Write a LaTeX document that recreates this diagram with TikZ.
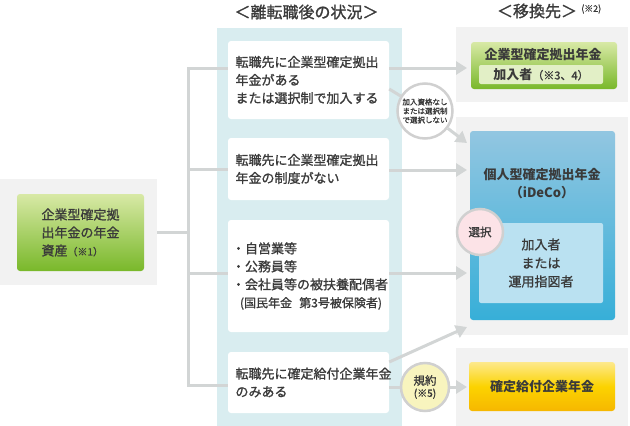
\documentclass[tikz,border=0pt]{standalone}
\usepackage{fontspec}
\setmainfont{Noto Sans CJK JP}[UprightFeatures={FakeBold=1.2}]
\usetikzlibrary{arrows.meta}
\definecolor{txt}{HTML}{3A3A3A}
\definecolor{lgray}{HTML}{F2F2F2}
\definecolor{lblue}{HTML}{D9EDF0}
\definecolor{linec}{HTML}{D2D5D5}
\definecolor{circb}{HTML}{D0D0D0}
\definecolor{gtop}{HTML}{D8E9A6}
\definecolor{gbot}{HTML}{79B82A}
\definecolor{ginner}{HTML}{E2EFC6}
\definecolor{btop}{HTML}{92C6E1}
\definecolor{bbot}{HTML}{37AFD8}
\definecolor{binner}{HTML}{BAE1F1}
\definecolor{ytop}{HTML}{FDE98C}
\definecolor{ymid}{HTML}{FCD300}
\definecolor{ybot}{HTML}{F6B700}
\definecolor{pinkc}{HTML}{FCE3E7}
\definecolor{yellc}{HTML}{F8F4BE}
\newcommand{\fsz}[2]{\fontsize{#1}{#2}\selectfont}
\begin{document}
\begin{tikzpicture}[x=1pt,y=-1pt,
  every node/.style={text=txt, inner sep=0pt},
  panel/.style={fill=lgray},
  wbox/.style={fill=white, rounded corners=3pt, minimum width=161pt, text width=146pt, align=left, font=\fsz{13}{18}},
  ln/.style={draw=linec, line width=3pt},
  arr/.style={ln, -{Triangle[width=13pt,length=11pt]}},
  circ/.style={circle, draw=circb, line width=2.5pt, align=center},
  greenbox/.style={rounded corners=3pt, top color=gtop, bottom color=gbot},
]
\useasboundingbox (0,0) rectangle (630,426);
% background panels
\node[panel, minimum width=157pt, minimum height=106pt] (lp) at (78.5,232) {};
\fill[lblue] (217,28) rectangle (402,426);
\fill[lgray] (456,27) rectangle (628,102);
\fill[lgray] (456,117) rectangle (628,335);
\fill[lgray] (456,348) rectangle (628,426);
% titles
\node[font=\fsz{16}{18}] (t1) at (306.5,12) {＜離転職後の状況＞};
\node[font=\fsz{16}{18}] (t2) at (537,11) {＜移換先＞};
\node[font=\fsz{9}{10}, anchor=west] (t2n) at (581,9) {(※2)};
% left source box
\node[greenbox, minimum width=127pt, minimum height=77pt, align=left, font=\fsz{13}{18}] (src) at (80.5,232.5)
  {企業型確定拠\\出年金の年金\\資産{\fsz{10}{18}（※1）}};
% situation boxes
\node[wbox, minimum height=78pt] (b1) at (308.5,80) {転職先に企業型確定拠出\\年金がある\\または選択制で加入する};
\node[wbox, minimum height=62pt] (b2) at (308.5,169) {転職先に企業型確定拠出\\年金の制度がない};
\node[wbox, text width=153pt, minimum height=112pt] (b3) at (308.5,276) {・自営業等\\・公務員等\\・会社員等の被扶養配偶者\\\hspace*{8pt}{\fsz{12}{18}(国民年金\hspace{0.6em}第3号被保険者)}};
\node[wbox, minimum height=61pt] (b4) at (308.5,382.5) {転職先に確定給付企業年金\\のみある};
% destinations
\node[greenbox, minimum width=146pt, minimum height=47pt] (dc) at (544,65.5) {};
\node[font=\bfseries\fsz{13}{16}] (dct) at (543,55) {企業型確定拠出年金};
\node[fill=ginner, rounded corners=2pt, minimum width=124pt, minimum height=19pt, font=\fsz{13}{16}] (dci) at (541,74.5)
  {\textbf{加入者}{\fsz{11}{16}（※3、4）}};
\node[rounded corners=3pt, top color=btop, bottom color=bbot, minimum width=145pt, minimum height=189pt] (ideco) at (542.5,225.5) {};
\node[font=\bfseries\fsz{13}{18}, align=center] (idecot) at (542,184) {個人型確定拠出年金\\（iDeCo）};
\node[fill=binner, rounded corners=2pt, minimum width=124pt, minimum height=80pt, align=center, font=\fsz{13}{18.5}] (idecoi) at (541,263)
  {加入者\\または\\運用指図者};
\node[rounded corners=3pt, top color=ytop, bottom color=ybot, middle color=ymid, minimum width=146pt, minimum height=49pt, font=\bfseries\fsz{13}{16}] (db) at (542,386.5) {確定給付企業年金};
% circles
\node[circ, fill=white, minimum size=55pt, font=\fsz{7.5}{9}] (c1) at (425,111) {加入資格なし\\または選択制\\で選択しない};
\node[circ, fill=yellc, minimum size=48pt] (c2) at (425,387) {{\fsz{11.5}{12}規約}\\{\fsz{10}{11}(※5)}};
\node[circ, fill=pinkc, minimum size=46pt, font=\fsz{11.5}{12}] (c3) at (480,232) {選択};
% tree
\coordinate (j1) at (188,68);
\coordinate (j2) at (188,169);
\coordinate (j3) at (188,273);
\coordinate (j4) at (188,385);
\draw[ln] (lp.east) -- (lp.east -| j1);
\draw[ln, line cap=rect] (j1) -- (j4);
\draw[ln] (j1) -- (j1 -| b1.west);
\draw[ln] (j2) -- (j2 -| b2.west);
\draw[ln] (j3) -- (j3 -| b3.west);
\draw[ln] (j4) -- (j4 -| b4.west);
% arrows
\coordinate (a1) at (467,68);
\coordinate (a2) at (467,143);
\coordinate (a3) at (467,170);
\coordinate (a4) at (467,273);
\coordinate (a5) at (467,327);
\coordinate (a6) at (467,387);
\draw[arr] (b1.east |- a1) -- (a1);
\draw[ln] (b1.east |- 0,89) -- (c1);
\draw[arr] (c1) -- (a2);
\draw[arr] (b2.east |- a3) -- (a3);
\draw[arr] (b3.east |- a4) -- (a4);
\draw[arr] (b4.east |- 0,362) -- (a5);
\draw[ln] (b4.east |- a6) -- (c2);
\draw[arr] (c2) -- (a6);
\end{tikzpicture}
\end{document}
